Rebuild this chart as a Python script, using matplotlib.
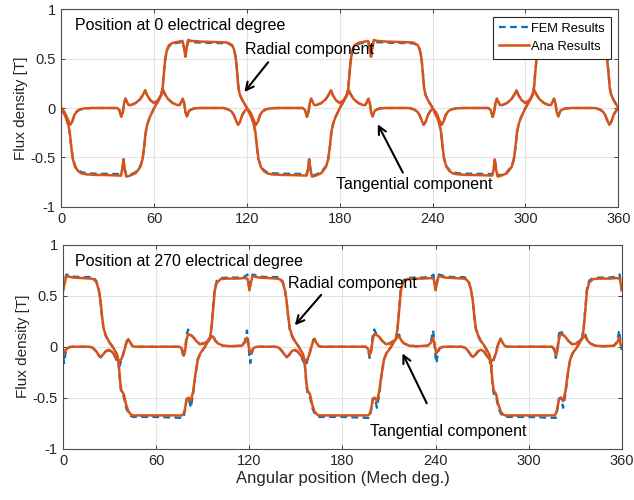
import matplotlib
matplotlib.use("Agg")
import matplotlib.pyplot as plt

plt.rcParams['font.family'] = ['Liberation Sans', 'DejaVu Sans']
plt.rcParams['axes.unicode_minus'] = False

# ---- data (angle in mech. deg, flux density in T) ----
# top panel: rotor at 0 electrical degree
top_rad_x = [0, 1.5, 3, 4.5, 5.5, 6.5, 7.5, 9, 11, 13, 16, 22, 30, 36, 38.5, 39.4, 40.2, 41, 42, 43.5, 46, 48, 49, 51, 52.5, 53.5, 54.5, 55.5, 57, 58.5, 60, 61.5, 63, 64.5, 65.5, 66.3, 67.2, 68.3, 69.5, 72, 75, 78.3, 79.3, 80.2, 81, 82, 84, 90, 100, 106, 108, 110.5, 111.7, 112.8, 113.7, 114.5, 115.5, 117, 118.5,
             120, 121.5, 123, 124.5, 125.5, 126.5, 127.5, 129, 131, 133, 136, 142, 150, 156, 158.5, 159.4, 160.2, 161, 162, 163.5, 166, 168, 169, 171, 172.5, 173.5, 174.5, 175.5, 177, 178.5, 180, 181.5, 183, 184.5, 185.5, 186.3, 187.2, 188.3, 189.5, 192, 195, 198.3, 199.3, 200.2, 201, 202, 204, 210, 220, 226, 228, 230.5, 231.7, 232.8, 233.7, 234.5, 235.5, 237, 238.5,
             240, 241.5, 243, 244.5, 245.5, 246.5, 247.5, 249, 251, 253, 256, 262, 270, 276, 278.5, 279.4, 280.2, 281, 282, 283.5, 286, 288, 289, 291, 292.5, 293.5, 294.5, 295.5, 297, 298.5, 300, 301.5, 303, 304.5, 305.5, 306.3, 307.2, 308.3, 309.5, 312, 315, 318.3, 319.3, 320.2, 321, 322, 324, 330, 340, 346, 348, 350.5, 351.7, 352.8, 353.7, 354.5, 355.5, 357, 358.5, 360]
top_rad_ana = [0.0, -0.05, -0.10, -0.17, -0.25, -0.40, -0.52, -0.60, -0.64, -0.662, -0.672, -0.678, -0.68, -0.683, -0.685, -0.63, -0.52, -0.62, -0.695, -0.69, -0.675, -0.66, -0.64, -0.60, -0.52, -0.40, -0.25, -0.17, -0.10, -0.05, 0.0, 0.04, 0.08, 0.13, 0.20, 0.35, 0.50, 0.59, 0.635, 0.66, 0.67, 0.68, 0.62, 0.52, 0.61, 0.69, 0.68, 0.673, 0.668, 0.665, 0.66, 0.635, 0.59, 0.50, 0.35, 0.20, 0.13, 0.08, 0.04,
               0.0, -0.05, -0.10, -0.17, -0.25, -0.40, -0.52, -0.60, -0.64, -0.662, -0.672, -0.678, -0.68, -0.683, -0.685, -0.63, -0.52, -0.62, -0.695, -0.69, -0.675, -0.66, -0.64, -0.60, -0.52, -0.40, -0.25, -0.17, -0.10, -0.05, 0.0, 0.04, 0.08, 0.13, 0.20, 0.35, 0.50, 0.59, 0.635, 0.66, 0.67, 0.68, 0.62, 0.52, 0.61, 0.69, 0.68, 0.673, 0.668, 0.665, 0.66, 0.635, 0.59, 0.50, 0.35, 0.20, 0.13, 0.08, 0.04,
               0.0, -0.05, -0.10, -0.17, -0.25, -0.40, -0.52, -0.60, -0.64, -0.662, -0.672, -0.678, -0.68, -0.683, -0.685, -0.63, -0.52, -0.62, -0.695, -0.69, -0.675, -0.66, -0.64, -0.60, -0.52, -0.40, -0.25, -0.17, -0.10, -0.05, 0.0, 0.04, 0.08, 0.13, 0.20, 0.35, 0.50, 0.59, 0.635, 0.66, 0.67, 0.68, 0.62, 0.52, 0.61, 0.69, 0.68, 0.673, 0.668, 0.665, 0.66, 0.635, 0.59, 0.50, 0.35, 0.20, 0.13, 0.08, 0.04, 0.0]
top_rad_fem = [0.0, -0.05, -0.10, -0.17, -0.26, -0.41, -0.52, -0.59, -0.63, -0.65, -0.66, -0.665, -0.667, -0.668, -0.672, -0.62, -0.52, -0.61, -0.68, -0.68, -0.665, -0.65, -0.63, -0.59, -0.52, -0.41, -0.26, -0.17, -0.10, -0.05, 0.0, 0.04, 0.08, 0.13, 0.21, 0.36, 0.50, 0.58, 0.625, 0.65, 0.66, 0.67, 0.61, 0.52, 0.60, 0.675, 0.667, 0.662, 0.658, 0.656, 0.652, 0.63, 0.59, 0.51, 0.36, 0.21, 0.13, 0.08, 0.04,
               0.0, -0.05, -0.10, -0.17, -0.26, -0.41, -0.52, -0.59, -0.63, -0.65, -0.66, -0.665, -0.667, -0.668, -0.672, -0.62, -0.52, -0.61, -0.68, -0.68, -0.665, -0.65, -0.63, -0.59, -0.52, -0.41, -0.26, -0.17, -0.10, -0.05, 0.0, 0.04, 0.08, 0.13, 0.21, 0.36, 0.50, 0.58, 0.625, 0.65, 0.66, 0.67, 0.61, 0.52, 0.60, 0.675, 0.667, 0.662, 0.658, 0.656, 0.652, 0.63, 0.59, 0.51, 0.36, 0.21, 0.13, 0.08, 0.04,
               0.0, -0.05, -0.10, -0.17, -0.26, -0.41, -0.52, -0.59, -0.63, -0.65, -0.66, -0.665, -0.667, -0.668, -0.672, -0.62, -0.52, -0.61, -0.68, -0.68, -0.665, -0.65, -0.63, -0.59, -0.52, -0.41, -0.26, -0.17, -0.10, -0.05, 0.0, 0.04, 0.08, 0.13, 0.21, 0.36, 0.50, 0.58, 0.625, 0.65, 0.66, 0.67, 0.61, 0.52, 0.60, 0.675, 0.667, 0.662, 0.658, 0.656, 0.652, 0.63, 0.59, 0.51, 0.36, 0.21, 0.13, 0.08, 0.04, 0.0]

top_tan_x = [0, 1.5, 3, 4.5, 5.8, 7, 8.5, 10, 12, 15, 20, 36, 37.5, 38.8, 39.8, 40.6, 41.5, 42.5, 43.5, 45, 48, 51, 53, 54.2, 55.5, 57.5, 60, 62.5, 64.5, 65.8, 67, 69, 72, 75, 76.5, 77.5, 78.5, 79.4, 80.2, 81.2, 82.5, 84, 86, 90, 105, 108, 110, 111.5, 113, 114.2, 115.5, 117, 118.5,
             120, 121.5, 123, 124.5, 125.8, 127, 128.5, 130, 132, 135, 140, 156, 157.5, 158.8, 159.8, 160.6, 161.5, 162.5, 163.5, 165, 168, 171, 173, 174.2, 175.5, 177.5, 180, 182.5, 184.5, 185.8, 187, 189, 192, 195, 196.5, 197.5, 198.5, 199.4, 200.2, 201.2, 202.5, 204, 206, 210, 225, 228, 230, 231.5, 233, 234.2, 235.5, 237, 238.5,
             240, 241.5, 243, 244.5, 245.8, 247, 248.5, 250, 252, 255, 260, 276, 277.5, 278.8, 279.8, 280.6, 281.5, 282.5, 283.5, 285, 288, 291, 293, 294.2, 295.5, 297.5, 300, 302.5, 304.5, 305.8, 307, 309, 312, 315, 316.5, 317.5, 318.5, 319.4, 320.2, 321.2, 322.5, 324, 326, 330, 345, 348, 350, 351.5, 353, 354.2, 355.5, 357, 358.5, 360]
top_tan = [0.0, -0.03, -0.07, -0.13, -0.17, -0.14, -0.07, -0.035, -0.015, -0.004, 0.0, 0.0, -0.02, -0.09, -0.04, 0.05, 0.095, 0.06, 0.03, 0.03, 0.05, 0.09, 0.14, 0.18, 0.13, 0.08, 0.05, 0.08, 0.13, 0.18, 0.14, 0.09, 0.05, 0.03, 0.03, 0.06, 0.095, 0.05, -0.04, -0.085, -0.03, -0.015, -0.004, 0.0, 0.0, -0.015, -0.035, -0.07, -0.13, -0.17, -0.14, -0.07, -0.03,
           -0.01, -0.03, -0.07, -0.13, -0.17, -0.14, -0.07, -0.035, -0.015, -0.004, 0.0, 0.0, -0.02, -0.09, -0.04, 0.05, 0.095, 0.06, 0.03, 0.03, 0.05, 0.09, 0.14, 0.18, 0.13, 0.08, 0.05, 0.08, 0.13, 0.18, 0.14, 0.09, 0.05, 0.03, 0.03, 0.06, 0.095, 0.05, -0.04, -0.085, -0.03, -0.015, -0.004, 0.0, 0.0, -0.015, -0.035, -0.07, -0.13, -0.17, -0.14, -0.07, -0.03,
           -0.01, -0.03, -0.07, -0.13, -0.17, -0.14, -0.07, -0.035, -0.015, -0.004, 0.0, 0.0, -0.02, -0.09, -0.04, 0.05, 0.095, 0.06, 0.03, 0.03, 0.05, 0.09, 0.14, 0.18, 0.13, 0.08, 0.05, 0.08, 0.13, 0.18, 0.14, 0.09, 0.05, 0.03, 0.03, 0.06, 0.095, 0.05, -0.04, -0.085, -0.03, -0.015, -0.004, 0.0, 0.0, -0.015, -0.035, -0.07, -0.13, -0.17, -0.14, -0.07, -0.03, 0.0]

# bottom panel: rotor at 270 electrical degree
bot_rad_x = [0, 1, 2, 3.5, 6, 12, 18, 20, 21.5, 23, 24, 25, 26, 27.5, 29.5, 31.5, 33, 34.5, 35.5, 36.2, 36.8, 37.5, 39, 40.5, 42, 43.5, 45, 60, 76.5, 77.5, 78.5, 79.5, 80.8, 82.2, 83.7, 85, 86.7, 88.5, 90.5, 92.5, 94.5, 95.5, 96.5, 97.6, 99, 101.5, 106, 112, 117, 118.7, 119.4,
             120, 121, 122, 123.5, 126, 132, 138, 140, 141.5, 143, 144, 145, 146, 147.5, 149.5, 151.5, 153, 154.5, 155.5, 156.2, 156.8, 157.5, 159, 160.5, 162, 163.5, 165, 180, 196.5, 197.5, 198.5, 199.5, 200.8, 202.2, 203.7, 205, 206.7, 208.5, 210.5, 212.5, 214.5, 215.5, 216.5, 217.6, 219, 221.5, 226, 232, 237, 238.7, 239.4,
             240, 241, 242, 243.5, 246, 252, 258, 260, 261.5, 263, 264, 265, 266, 267.5, 269.5, 271.5, 273, 274.5, 275.5, 276.2, 276.8, 277.5, 279, 280.5, 282, 283.5, 285, 300, 316.5, 317.5, 318.5, 319.5, 320.8, 322.2, 323.7, 325, 326.7, 328.5, 330.5, 332.5, 334.5, 335.5, 336.5, 337.6, 339, 341.5, 346, 352, 357, 358.7, 359.4, 360]
bot_rad_ana = [0.555, 0.63, 0.695, 0.69, 0.68, 0.675, 0.67, 0.66, 0.63, 0.55, 0.45, 0.30, 0.18, 0.11, 0.05, 0.01, -0.03, -0.07, -0.13, -0.25, -0.36, -0.43, -0.465, -0.57, -0.635, -0.665, -0.675, -0.675, -0.675, -0.66, -0.61, -0.52, -0.50, -0.535, -0.44, -0.29, -0.13, -0.06, -0.02, 0.03, 0.08, 0.18, 0.35, 0.55, 0.63, 0.665, 0.67, 0.67, 0.675, 0.67, 0.62,
               0.555, 0.63, 0.695, 0.69, 0.68, 0.675, 0.67, 0.66, 0.63, 0.55, 0.45, 0.30, 0.18, 0.11, 0.05, 0.01, -0.03, -0.07, -0.13, -0.25, -0.36, -0.43, -0.465, -0.57, -0.635, -0.665, -0.675, -0.675, -0.675, -0.66, -0.61, -0.52, -0.50, -0.535, -0.44, -0.29, -0.13, -0.06, -0.02, 0.03, 0.08, 0.18, 0.35, 0.55, 0.63, 0.665, 0.67, 0.67, 0.675, 0.67, 0.62,
               0.555, 0.63, 0.695, 0.69, 0.68, 0.675, 0.67, 0.66, 0.63, 0.55, 0.45, 0.30, 0.18, 0.11, 0.05, 0.01, -0.03, -0.07, -0.13, -0.25, -0.36, -0.43, -0.465, -0.57, -0.635, -0.665, -0.675, -0.675, -0.675, -0.66, -0.61, -0.52, -0.50, -0.535, -0.44, -0.29, -0.13, -0.06, -0.02, 0.03, 0.08, 0.18, 0.35, 0.55, 0.63, 0.665, 0.67, 0.67, 0.675, 0.67, 0.62, 0.555]
bot_rad_fem = [0.56, 0.66, 0.71, 0.705, 0.69, 0.685, 0.685, 0.675, 0.64, 0.55, 0.44, 0.29, 0.17, 0.10, 0.045, 0.005, -0.035, -0.08, -0.14, -0.27, -0.39, -0.46, -0.49, -0.60, -0.655, -0.68, -0.69, -0.69, -0.70, -0.70, -0.62, -0.51, -0.50, -0.60, -0.47, -0.30, -0.12, -0.06, -0.02, 0.03, 0.08, 0.19, 0.37, 0.57, 0.65, 0.675, 0.68, 0.68, 0.69, 0.71, 0.63,
               0.56, 0.66, 0.71, 0.705, 0.69, 0.685, 0.685, 0.675, 0.64, 0.55, 0.44, 0.29, 0.17, 0.10, 0.045, 0.005, -0.035, -0.08, -0.14, -0.27, -0.39, -0.46, -0.49, -0.60, -0.655, -0.68, -0.69, -0.69, -0.70, -0.70, -0.62, -0.51, -0.50, -0.60, -0.47, -0.30, -0.12, -0.06, -0.02, 0.03, 0.08, 0.19, 0.37, 0.57, 0.65, 0.675, 0.68, 0.68, 0.69, 0.71, 0.63,
               0.56, 0.66, 0.71, 0.705, 0.69, 0.685, 0.685, 0.675, 0.64, 0.55, 0.44, 0.29, 0.17, 0.10, 0.045, 0.005, -0.035, -0.08, -0.14, -0.27, -0.39, -0.46, -0.49, -0.60, -0.655, -0.68, -0.69, -0.69, -0.70, -0.70, -0.62, -0.51, -0.50, -0.60, -0.47, -0.30, -0.12, -0.06, -0.02, 0.03, 0.08, 0.19, 0.37, 0.57, 0.65, 0.675, 0.68, 0.68, 0.69, 0.71, 0.63, 0.56]

bot_tan_x = [0, 0.6, 1.5, 2.5, 4, 6, 17, 19, 21, 23, 24, 25.5, 27.5, 29.5, 31.5, 33, 35, 36.3, 37.5, 38.8, 40, 41.2, 42, 43, 44.5, 46, 75, 76.5, 77.5, 78.5, 79.5, 80.5, 82, 83.5, 85.5, 88, 90.5, 93, 95.5, 96.5, 98, 100, 103, 108, 115, 117, 118.4, 119.3,
             120, 120.6, 121.5, 122.5, 124, 126, 137, 139, 141, 143, 144, 145.5, 147.5, 149.5, 151.5, 153, 155, 156.3, 157.5, 158.8, 160, 161.2, 162, 163, 164.5, 166, 195, 196.5, 197.5, 198.5, 199.5, 200.5, 202, 203.5, 205.5, 208, 210.5, 213, 215.5, 216.5, 218, 220, 223, 228, 235, 237, 238.4, 239.3,
             240, 240.6, 241.5, 242.5, 244, 246, 257, 259, 261, 263, 264, 265.5, 267.5, 269.5, 271.5, 273, 275, 276.3, 277.5, 278.8, 280, 281.2, 282, 283, 284.5, 286, 315, 316.5, 317.5, 318.5, 319.5, 320.5, 322, 323.5, 325.5, 328, 330.5, 333, 335.5, 336.5, 338, 340, 343, 348, 355, 357, 358.4, 359.3, 360]
bot_tan_ana = [-0.03, -0.065, -0.04, -0.015, -0.003, 0.0, 0.0, -0.01, -0.04, -0.085, -0.10, -0.08, -0.04, -0.03, -0.05, -0.085, -0.13, -0.14, -0.12, -0.07, 0.0, 0.06, 0.075, 0.045, 0.01, 0.0, 0.0, -0.02, -0.085, -0.04, 0.07, 0.125, 0.115, 0.10, 0.06, 0.025, 0.03, 0.055, 0.095, 0.10, 0.06, 0.03, 0.01, 0.005, 0.01, 0.04, 0.09, 0.02,
               -0.03, -0.065, -0.04, -0.015, -0.003, 0.0, 0.0, -0.01, -0.04, -0.085, -0.10, -0.08, -0.04, -0.03, -0.05, -0.085, -0.13, -0.14, -0.12, -0.07, 0.0, 0.06, 0.075, 0.045, 0.01, 0.0, 0.0, -0.02, -0.085, -0.04, 0.07, 0.125, 0.115, 0.10, 0.06, 0.025, 0.03, 0.055, 0.095, 0.10, 0.06, 0.03, 0.01, 0.005, 0.01, 0.04, 0.09, 0.02,
               -0.03, -0.065, -0.04, -0.015, -0.003, 0.0, 0.0, -0.01, -0.04, -0.085, -0.10, -0.08, -0.04, -0.03, -0.05, -0.085, -0.13, -0.14, -0.12, -0.07, 0.0, 0.06, 0.075, 0.045, 0.01, 0.0, 0.0, -0.02, -0.085, -0.04, 0.07, 0.125, 0.115, 0.10, 0.06, 0.025, 0.03, 0.055, 0.095, 0.10, 0.06, 0.03, 0.01, 0.005, 0.01, 0.04, 0.09, 0.02, 0.0]
bot_tan_fem = [-0.10, -0.16, -0.06, -0.02, -0.005, 0.0, 0.0, -0.01, -0.045, -0.09, -0.105, -0.085, -0.045, -0.035, -0.055, -0.09, -0.15, -0.19, -0.13, -0.06, 0.01, 0.07, 0.08, 0.045, 0.01, 0.0, 0.0, -0.03, -0.11, -0.03, 0.12, 0.17, 0.12, 0.10, 0.06, 0.025, 0.035, 0.06, 0.11, 0.12, 0.06, 0.03, 0.01, 0.005, 0.01, 0.05, 0.16, 0.04,
               -0.10, -0.16, -0.06, -0.02, -0.005, 0.0, 0.0, -0.01, -0.045, -0.09, -0.105, -0.085, -0.045, -0.035, -0.055, -0.09, -0.15, -0.19, -0.13, -0.06, 0.01, 0.07, 0.08, 0.045, 0.01, 0.0, 0.0, -0.03, -0.11, -0.03, 0.12, 0.17, 0.12, 0.10, 0.06, 0.025, 0.035, 0.06, 0.11, 0.12, 0.06, 0.03, 0.01, 0.005, 0.01, 0.05, 0.16, 0.04,
               -0.10, -0.16, -0.06, -0.02, -0.005, 0.0, 0.0, -0.01, -0.045, -0.09, -0.105, -0.085, -0.045, -0.035, -0.055, -0.09, -0.15, -0.19, -0.13, -0.06, 0.01, 0.07, 0.08, 0.045, 0.01, 0.0, 0.0, -0.03, -0.11, -0.03, 0.12, 0.17, 0.12, 0.10, 0.06, 0.025, 0.035, 0.06, 0.11, 0.12, 0.06, 0.03, 0.01, 0.005, 0.01, 0.05, 0.16, 0.04, -0.03]

x_ticks = [0, 60, 120, 180, 240, 300, 360]
y_ticks = [-1, -0.5, 0, 0.5, 1]
y_ticklabels = ['-1', '-0.5', '0', '0.5', '1']

FEM_COLOR = '#0072BD'
ANA_COLOR = '#D95319'

fig = plt.figure(figsize=(6.34, 5.0), dpi=100)
ax1 = fig.add_axes([0.0967, 0.5866, 0.8785, 0.3948])
ax2 = fig.add_axes([0.0998, 0.103, 0.8808, 0.407])


def style_axes(ax):
    ax.set_xlim(0, 360)
    ax.set_ylim(-1, 1)
    ax.set_xticks(x_ticks)
    ax.set_yticks(y_ticks)
    ax.set_yticklabels(y_ticklabels)
    ax.grid(True, color='#e3e3e3', linewidth=0.8)
    ax.set_axisbelow(True)
    ax.tick_params(direction='in', length=3, width=0.6, top=True, right=True,
                   labelsize=10.5, colors='#262626', pad=4)
    for sp in ax.spines.values():
        sp.set_color('#4d4d4d')
        sp.set_linewidth(0.8)
    ax.set_ylabel('Flux density [T]', fontsize=11, color='#262626', labelpad=2)


# top panel
ax1.plot(top_rad_x, top_rad_fem, '--', color=FEM_COLOR, lw=1.6, dashes=(3, 2), label='FEM Results')
ax1.plot(top_tan_x, top_tan, '--', color=FEM_COLOR, lw=1.6, dashes=(3, 2))
ax1.plot(top_rad_x, top_rad_ana, '-', color=ANA_COLOR, lw=1.8, label='Ana Results')
ax1.plot(top_tan_x, top_tan, '-', color=ANA_COLOR, lw=1.8)
style_axes(ax1)
leg = ax1.legend(loc='upper right', fontsize=9.3, frameon=True, fancybox=False,
                 borderpad=0.45, handlelength=2.3, handletextpad=0.2, labelspacing=0.45,
                 borderaxespad=0.6)
leg.get_frame().set_edgecolor('#262626')
leg.get_frame().set_linewidth(0.8)
leg.get_frame().set_alpha(1.0)

ax1.text(8.8, 0.84, 'Position at 0 electrical degree', fontsize=11.5, va='center')
ax1.text(118.7, 0.59, 'Radial component', fontsize=11.5, va='center')
ax1.annotate('', xy=(117.2, 0.14), xytext=(134.8, 0.485),
             arrowprops=dict(arrowstyle='->', color='black', lw=1.5, mutation_scale=14))
ax1.text(177.5, -0.78, 'Tangential component', fontsize=11.5, va='center')
ax1.annotate('', xy=(203.7, -0.14), xytext=(221.6, -0.68),
             arrowprops=dict(arrowstyle='->', color='black', lw=1.5, mutation_scale=14))

# bottom panel
ax2.plot(bot_rad_x, bot_rad_fem, '--', color=FEM_COLOR, lw=1.6, dashes=(3, 2))
ax2.plot(bot_tan_x, bot_tan_fem, '--', color=FEM_COLOR, lw=1.6, dashes=(3, 2))
ax2.plot(bot_rad_x, bot_rad_ana, '-', color=ANA_COLOR, lw=1.8)
ax2.plot(bot_tan_x, bot_tan_ana, '-', color=ANA_COLOR, lw=1.8)
style_axes(ax2)
ax2.set_xlabel('Angular position (Mech deg.)', fontsize=12, color='#262626', labelpad=2)

ax2.text(7.5, 0.84, 'Position at 270 electrical degree', fontsize=11.5, va='center')
ax2.text(145.1, 0.62, 'Radial component', fontsize=11.5, va='center')
ax2.annotate('', xy=(148.1, 0.19), xytext=(167.4, 0.53),
             arrowprops=dict(arrowstyle='->', color='black', lw=1.5, mutation_scale=14))
ax2.text(197.7, -0.83, 'Tangential component', fontsize=11.5, va='center')
ax2.annotate('', xy=(217.9, -0.04), xytext=(235.1, -0.58),
             arrowprops=dict(arrowstyle='->', color='black', lw=1.5, mutation_scale=14))

fig.savefig('out.png', dpi=100)
